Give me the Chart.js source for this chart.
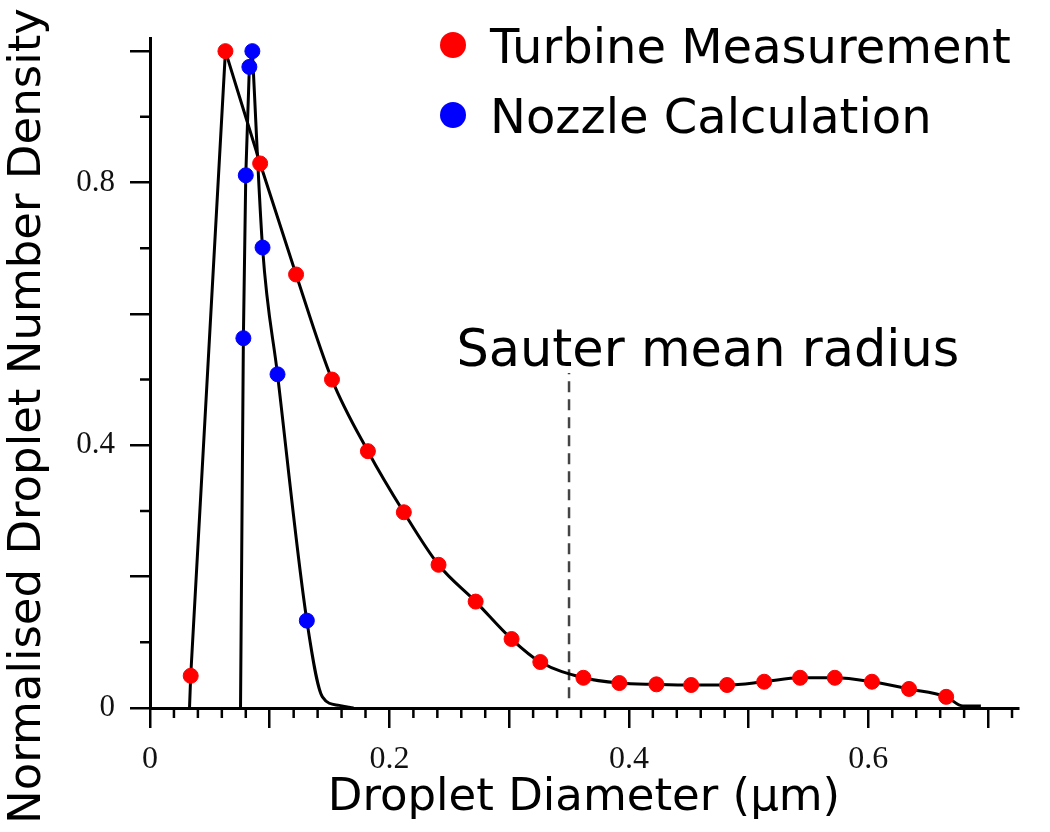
<!DOCTYPE html>
<html lang="en">
<head>
<meta charset="UTF-8">
<title>Droplet Number Density</title>
<script src="https://cdn.jsdelivr.net/npm/chart.js@4.4.1/dist/chart.umd.min.js"></script>
<style>
  html, body { margin: 0; padding: 0; background: #fff; }
  #wrap { width: 1050px; height: 832px; position: relative; }
</style>
</head>
<body>
<div id="wrap"><canvas id="dropletChart"></canvas></div>
<script>
// measured points (red)
const turbineX = [0.034, 0.063, 0.092, 0.122, 0.152, 0.182, 0.212, 0.241, 0.272, 0.302, 0.326,
                  0.362, 0.392, 0.423, 0.452, 0.482, 0.513, 0.543, 0.572, 0.603, 0.634, 0.665];
const turbineY = [0.049, 1.0, 0.829, 0.66, 0.50, 0.391, 0.298, 0.218, 0.162, 0.105, 0.070,
                  0.046, 0.038, 0.036, 0.035, 0.035, 0.040, 0.046, 0.046, 0.040, 0.029, 0.017];
// calculated points (blue)
const nozzleX = [0.078, 0.080, 0.083, 0.0855, 0.094, 0.1065, 0.131];
const nozzleY = [0.563, 0.811, 0.976, 1.0, 0.701, 0.508, 0.133];

// where the black curves meet the axis
const turbineFootX = [0.033, 0.679, 0.694];
const turbineFootY = [0.0, 0.003, 0.003];
const nozzleFootX = [0.0756, 0.144, 0.158, 0.17];
const nozzleFootY = [0.0, 0.017, 0.004, 0.0];

// Sauter mean radius marker
const sauterX = 0.35;
const sauterLineY = [0.015, 0.51];
const sauterText = 'Sauter mean radius';

// tick labels shown
const xLabelValues = [0, 0.2, 0.4, 0.6];
const yLabelValues = [0, 0.4, 0.8];

function pts(xs, ys) {
  return xs.map((x, i) => ({ x: x, y: ys[i] }));
}

// split a curve at its peak: straight rise, smooth fall
const tPeak = turbineY.indexOf(Math.max(...turbineY));
const nPeak = nozzleY.indexOf(Math.max(...nozzleY));
const turbineRise = pts([turbineFootX[0], ...turbineX.slice(0, tPeak + 1)], [turbineFootY[0], ...turbineY.slice(0, tPeak + 1)]);
const turbineFall = pts([...turbineX.slice(tPeak), ...turbineFootX.slice(1)], [...turbineY.slice(tPeak), ...turbineFootY.slice(1)]);
const nozzleRise = pts([nozzleFootX[0], ...nozzleX.slice(0, nPeak + 1)], [nozzleFootY[0], ...nozzleY.slice(0, nPeak + 1)]);
const nozzleFall = pts([...nozzleX.slice(nPeak), ...nozzleFootX.slice(1)], [...nozzleY.slice(nPeak), ...nozzleFootY.slice(1)]);

function labelIf(list) {
  return function (value) {
    const hit = list.find(v => Math.abs(v - value) < 1e-6);
    if (hit === undefined) return '';
    return hit === 0 ? '0' : hit.toFixed(1);
  };
}

// short ticks between the long ones
const minorTicks = {
  id: 'minorTicks',
  afterDraw(chart) {
    const { ctx, chartArea, scales } = chart;
    ctx.save();
    ctx.strokeStyle = '#000';
    ctx.lineWidth = 2.5;
    ctx.beginPath();
    for (let i = 1; i * 0.02 <= scales.x.max + 1e-9; i++) {
      if (i % 5 === 0) continue;
      const px = scales.x.getPixelForValue(i * 0.02);
      ctx.moveTo(px, chartArea.bottom);
      ctx.lineTo(px, chartArea.bottom + 10);
    }
    for (let i = 1; i * 0.1 <= scales.y.max + 1e-9; i += 2) {
      const py = scales.y.getPixelForValue(i * 0.1);
      ctx.moveTo(chartArea.left, py);
      ctx.lineTo(chartArea.left - 10, py);
    }
    ctx.stroke();
    ctx.restore();
  }
};

// legend drawn inside the plot, top right
const insideLegend = {
  id: 'insideLegend',
  afterDraw(chart, args, opts) {
    const ctx = chart.ctx;
    ctx.save();
    ctx.font = opts.size + 'px ' + opts.family;
    ctx.textBaseline = 'alphabetic';
    ctx.textAlign = 'left';
    chart.data.datasets.filter(d => d.inLegend).forEach((ds, i) => {
      const cy = opts.y + i * opts.rowGap;
      ctx.fillStyle = ds.backgroundColor;
      ctx.beginPath();
      ctx.arc(opts.x, cy, opts.radius, 0, Math.PI * 2);
      ctx.fill();
      ctx.fillStyle = '#000';
      ctx.fillText(ds.label, opts.x + opts.textGap, cy + opts.size * 0.365);
    });
    ctx.restore();
  }
};

const sauterLabel = {
  id: 'sauterLabel',
  afterDraw(chart, args, opts) {
    const { ctx, scales } = chart;
    ctx.save();
    ctx.font = opts.size + 'px ' + opts.family;
    ctx.fillStyle = '#000';
    ctx.textAlign = 'center';
    ctx.textBaseline = 'alphabetic';
    ctx.fillText(opts.text, scales.x.getPixelForValue(opts.x), scales.y.getPixelForValue(opts.y));
    ctx.restore();
  }
};

// y title is centred on the whole figure height, not on the axis
const yTitle = {
  id: 'yTitle',
  afterDraw(chart, args, opts) {
    const ctx = chart.ctx;
    ctx.save();
    ctx.font = opts.size + 'px ' + opts.family;
    ctx.fillStyle = '#000';
    ctx.textAlign = 'center';
    ctx.textBaseline = 'middle';
    ctx.translate(opts.x, chart.height / 2 + opts.shift);
    ctx.rotate(-Math.PI / 2);
    ctx.fillText(opts.text, 0, 0);
    ctx.restore();
  }
};

const ctx = document.getElementById('dropletChart').getContext('2d');
const fitLine = { showLine: true, borderColor: '#000', borderWidth: 3, pointRadius: 0, order: 2 };
new Chart(ctx, {
  type: 'scatter',
  data: {
    datasets: [
      {
        label: 'Turbine Measurement',
        data: pts(turbineX, turbineY),
        backgroundColor: '#ff0000',
        borderColor: '#ff0000',
        pointRadius: 7.5,
        inLegend: true,
        order: 1
      },
      {
        label: 'Nozzle Calculation',
        data: pts(nozzleX, nozzleY),
        backgroundColor: '#0000ff',
        borderColor: '#0000ff',
        pointRadius: 7.5,
        inLegend: true,
        order: 1
      },
      Object.assign({ label: 'turbine rise', data: turbineRise }, fitLine),
      Object.assign({ label: 'turbine fall', data: turbineFall, cubicInterpolationMode: 'monotone' }, fitLine),
      Object.assign({ label: 'nozzle rise', data: nozzleRise }, fitLine),
      Object.assign({ label: 'nozzle fall', data: nozzleFall, cubicInterpolationMode: 'monotone' }, fitLine),
      {
        label: 'sauter',
        data: sauterLineY.map(y => ({ x: sauterX, y: y })),
        showLine: true,
        borderColor: '#444',
        borderWidth: 2.5,
        borderDash: [11, 7],
        pointRadius: 0,
        order: 2
      }
    ]
  },
  options: {
    responsive: true,
    maintainAspectRatio: false,
    animation: false,
    layout: { padding: { top: 38, right: 32, left: 0, bottom: 0 } },
    plugins: {
      legend: { display: false },
      tooltip: { enabled: false },
      insideLegend: { x: 453, y: 45, rowGap: 70, radius: 13, textGap: 37, size: 48, family: 'DejaVu Sans' },
      sauterLabel: { x: 0.466, y: 0.52, text: sauterText, size: 51, family: 'DejaVu Sans' },
      yTitle: { x: 28, shift: 0, text: 'Normalised Droplet Number Density', size: 45, family: 'DejaVu Sans' }
    },
    scales: {
      x: {
        type: 'linear',
        min: 0,
        max: 0.725,
        afterFit: s => { s.height = 124; },
        border: { color: '#000', width: 3 },
        grid: { drawOnChartArea: false, tickLength: 20, color: '#000', lineWidth: 2.5 },
        ticks: {
          stepSize: 0.1, includeBounds: false, autoSkip: false, maxRotation: 0,
          padding: 12, color: '#111',
          font: { family: 'Liberation Serif', size: 32 },
          callback: labelIf(xLabelValues)
        },
        title: {
          display: true, text: 'Droplet Diameter (μm)', color: '#000',
          font: { family: 'DejaVu Sans', size: 45, lineHeight: 1 },
          padding: { top: 0, bottom: 11 }
        }
      },
      y: {
        type: 'linear',
        min: 0,
        max: 1.02,
        afterFit: s => { s.width = 150; },
        border: { color: '#000', width: 3 },
        grid: { drawOnChartArea: false, tickLength: 20, color: '#000', lineWidth: 2.5 },
        ticks: {
          stepSize: 0.2, includeBounds: false, autoSkip: false,
          padding: 15, color: '#111',
          font: { family: 'Liberation Serif', size: 31 },
          callback: labelIf(yLabelValues)
        }
      }
    }
  },
  plugins: [minorTicks, insideLegend, sauterLabel, yTitle]
});
</script>
</body>
</html>
